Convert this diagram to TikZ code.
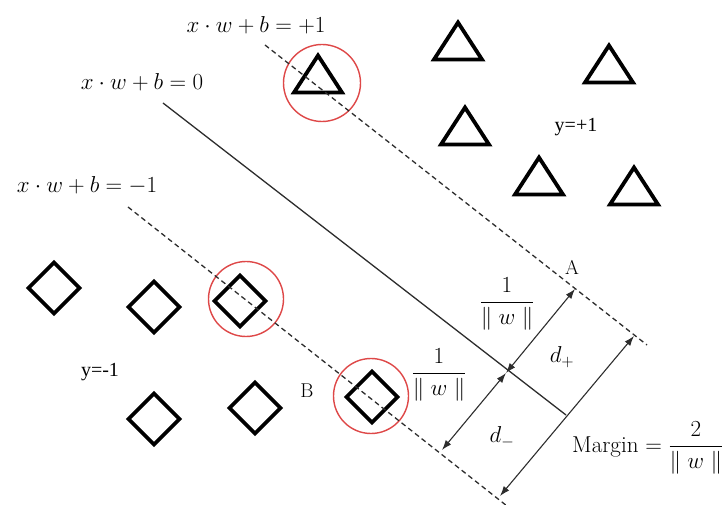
\RequirePackage{fix-cm}
\documentclass[tikz,border=0pt]{standalone}
\usepackage{fontspec}
\usepackage{amsmath}
\newfontfamily\timesfont{Liberation Serif}
\usetikzlibrary{arrows.meta}
\definecolor{ringred}{RGB}{222,72,72}
\definecolor{inkgray}{RGB}{45,45,45}
\tikzset{
  shapeline/.style={line width=3.8pt, line join=miter, draw=black},
  tri/.pic={\draw[shapeline] (-24,17.5) -- (0,-19.5) -- (24,17.5) -- cycle;},
  dia/.pic={\draw[shapeline] (-25.5,0) -- (0,-25.5) -- (25.5,0) -- (0,25.5) -- cycle;},
  ring/.style={draw=ringred, line width=1.4pt, circle, inner sep=0pt},
  hyper/.style={line width=1.3pt, draw=inkgray},
  supline/.style={line width=1.3pt, draw=inkgray, dash pattern=on 5pt off 3.5pt},
  dimarrow/.style={line width=1.1pt, draw=inkgray,
    {Latex[length=10pt,width=7pt]}-{Latex[length=10pt,width=7pt]}},
  mathlbl/.style={inner sep=0pt, font=\fontsize{23}{27}\selectfont},
  txtlbl/.style={inner sep=0pt},
  ptlbl/.style={inner sep=0pt, font=\fontsize{20}{24}\selectfont},
}
\begin{document}
\begin{tikzpicture}[x=1pt,y=-1pt]
\path[use as bounding box] (0,0) rectangle (724,505);

% red rings
\node[ring, minimum size=77pt] (r1) at (322,83) {};
\node[ring, minimum size=75pt] (r2) at (246,299) {};
\node[ring, minimum size=75pt] (r3) at (371,396) {};

% triangles (y=+1)
\pic at (318,75) {tri};
\pic at (458,42) {tri};
\pic at (609,65) {tri};
\pic at (465,127) {tri};
\pic at (539,177) {tri};
\pic at (634,187) {tri};

% diamonds (y=-1)
\pic at (54,288) {dia};
\pic at (154,307) {dia};
\pic at (240,301) {dia};
\pic at (154,419) {dia};
\pic at (255,408) {dia};
\pic at (372,397) {dia};

% hyperplanes
\coordinate (U1) at (265,45);
\coordinate (U2) at (647,345);
\coordinate (L1) at (128,207);
\coordinate (L2) at (507,506);
\coordinate (H1) at (163,103);
\coordinate (H2) at (566,415);
\draw[supline] (U1) -- (U2);
\draw[supline] (L1) -- (L2);
\draw[hyper] (H1) -- (H2);

% distance arrows
\coordinate (P) at (506,373);
\coordinate (Ap) at (575,289);
\coordinate (Bp) at (442,450);
\coordinate (M1) at (634,336);
\coordinate (M2) at (500,496);
\draw[dimarrow] (P) -- (Ap);
\draw[dimarrow] (P) -- (Bp);
\draw[dimarrow] (M1) -- (M2);

% labels
\node[mathlbl] (eqp) at (256,25) {$x\cdot w+b=+1$};
\node[mathlbl] (eqz) at (142,82) {$x\cdot w+b=0$};
\node[mathlbl] (eqm) at (87,185) {$x\cdot w+b=-1$};
\node[txtlbl] (yp) at (576,127) {\timesfont\fontsize{20}{24}\selectfont y=+1};
\node[txtlbl] (ym) at (100,372) {\timesfont\fontsize{20}{24}\selectfont y=-1};
\node[ptlbl] (la) at (572,267) {A};
\node[ptlbl] (lb) at (307,391) {B};
\node[mathlbl] (f1) at (507,304) {$\dfrac{1}{\parallel w\parallel}$};
\node[mathlbl] (f2) at (439,375) {$\dfrac{1}{\parallel w\parallel}$};
\node[mathlbl] (dp) at (562,357) {$d_+$};
\node[mathlbl] (dm) at (502,437) {$d_-$};
\node[mathlbl, anchor=west] (mg) at (572,448) {Margin $=\dfrac{2}{\parallel w\parallel}$};
\end{tikzpicture}
\end{document}
